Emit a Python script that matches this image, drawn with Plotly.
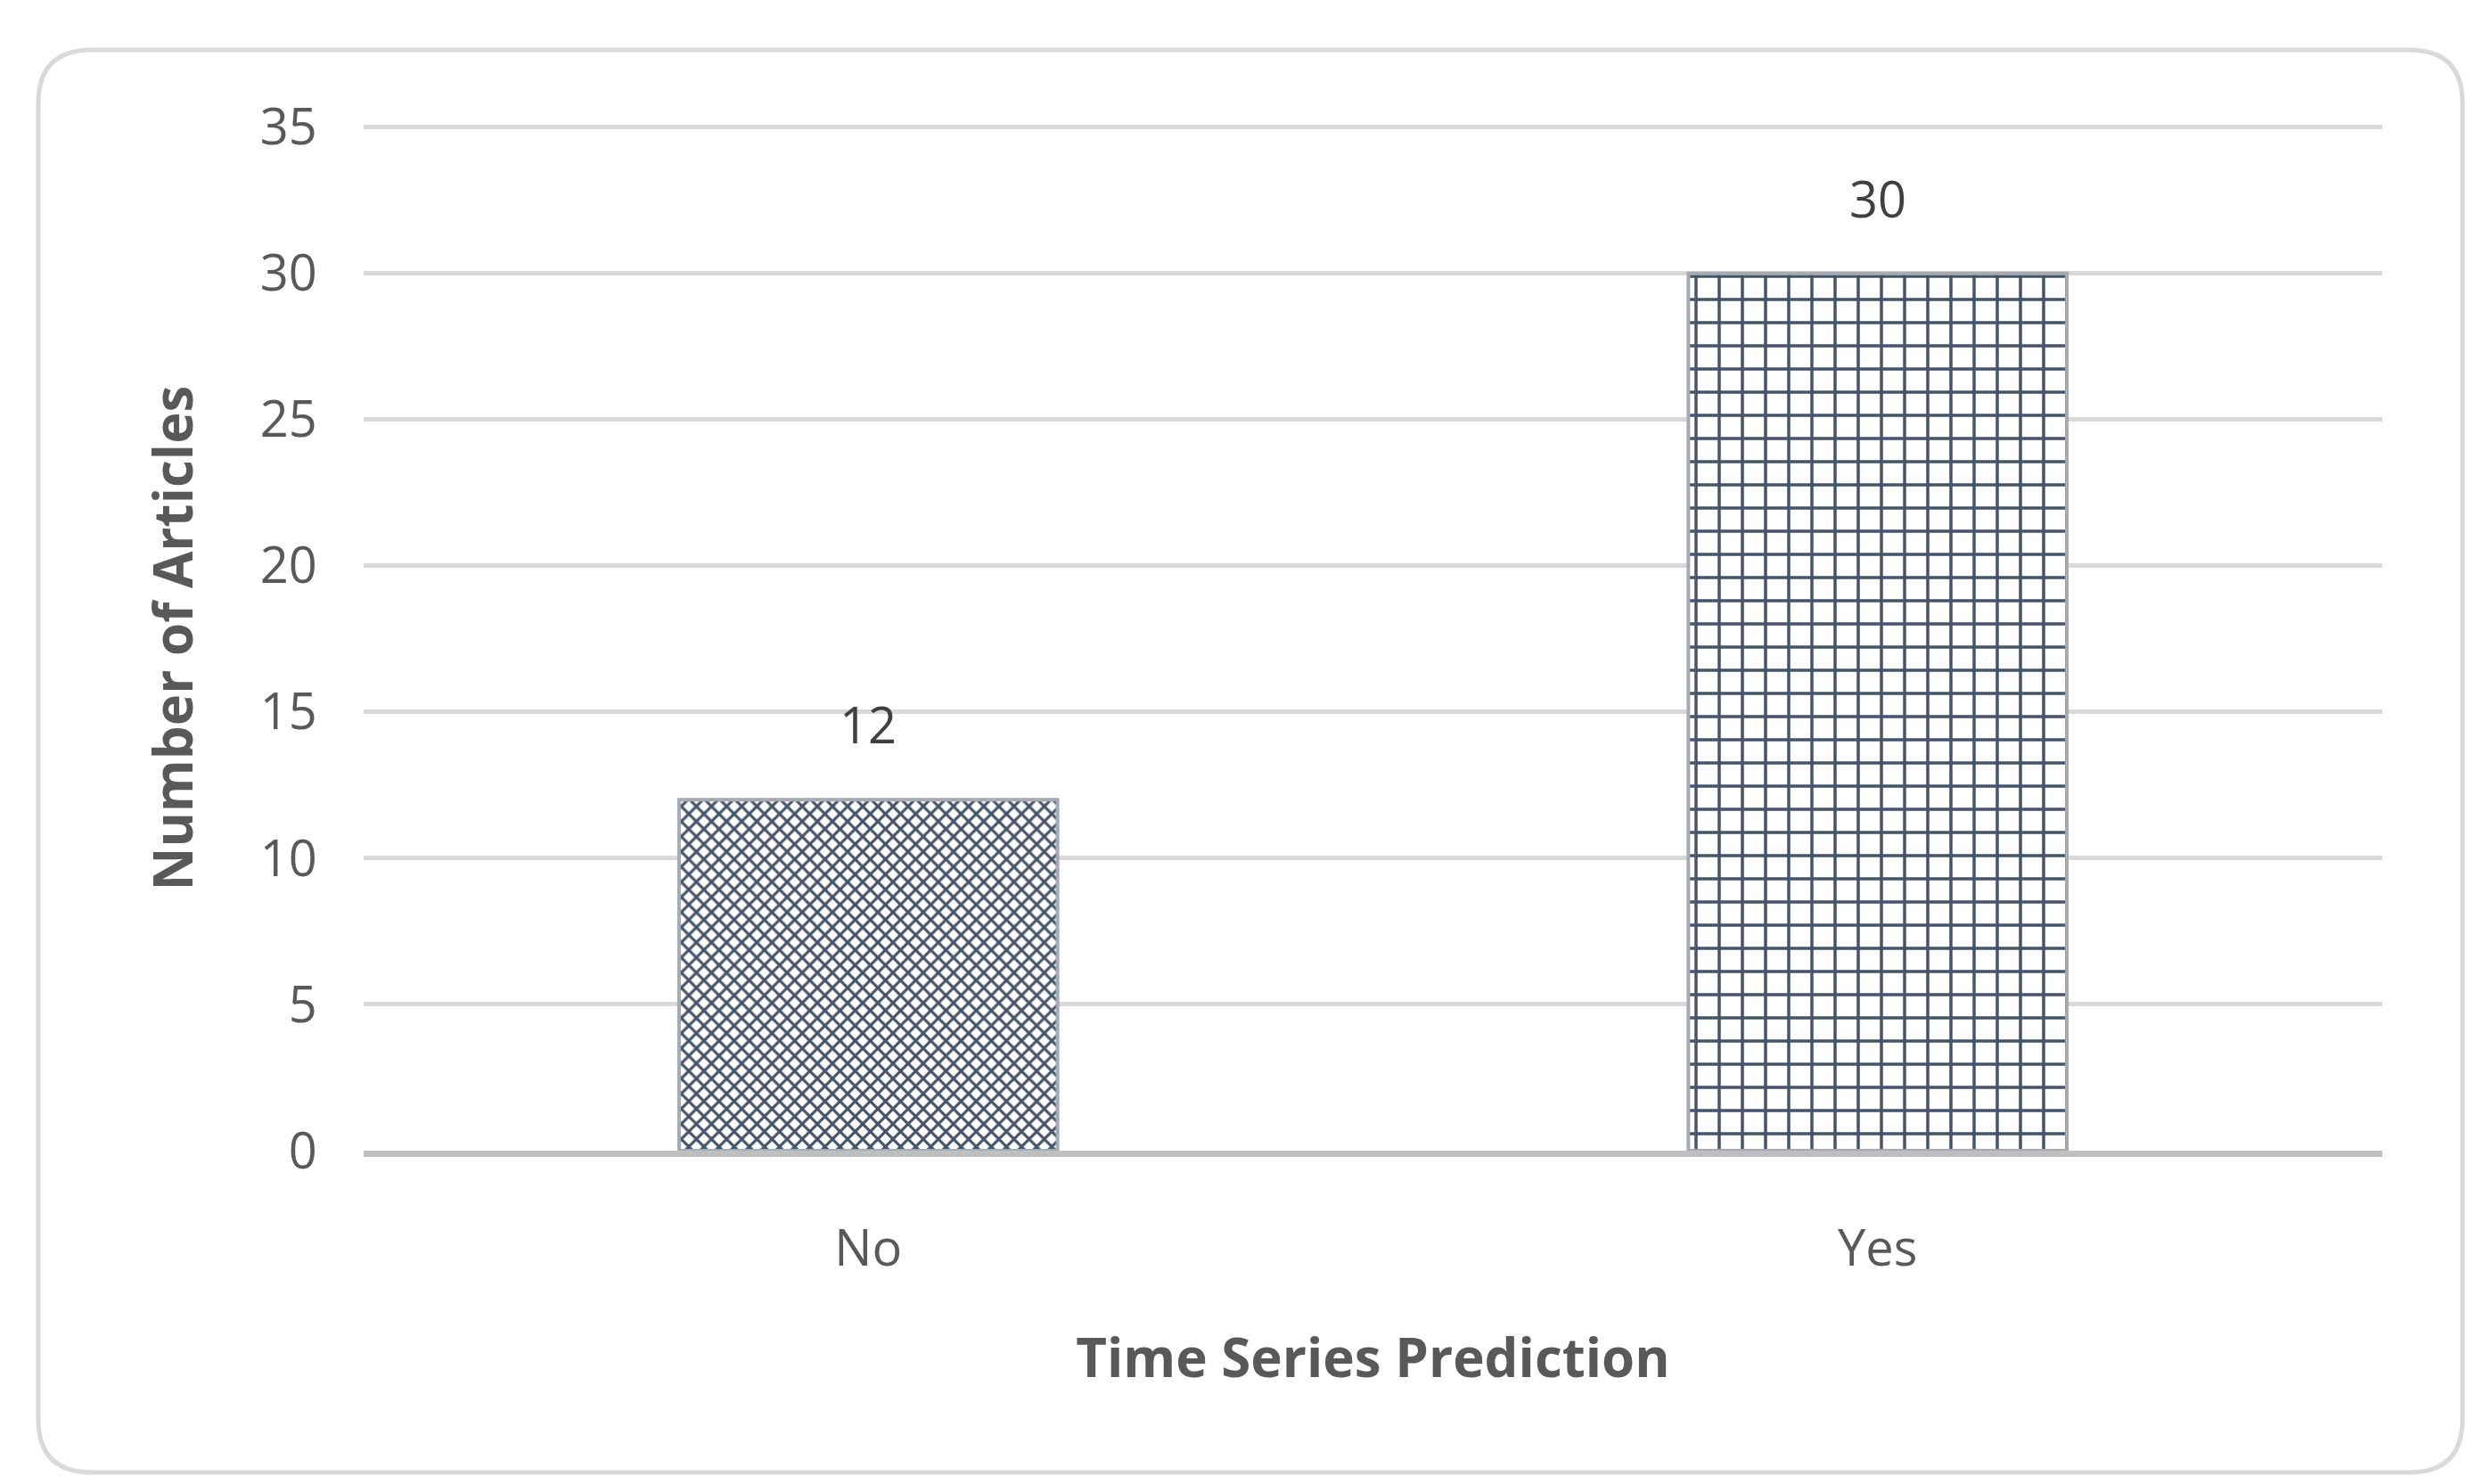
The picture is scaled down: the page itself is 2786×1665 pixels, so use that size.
import plotly.graph_objects as go

categories = ["No", "Yes"]
values = [12, 30]
y_ticks = [0, 5, 10, 15, 20, 25, 30, 35]

fig = go.Figure()
fig.add_trace(go.Bar(
    x=categories, y=values, width=0.375,
    marker=dict(color="white",
                line=dict(color="#a6abb3", width=4),
                pattern=dict(shape=["x", "+"], fgcolor="#44546a", bgcolor="white", fgopacity=1,
                             size=[12, 26], solidity=[0.45, 0.25])),
))
for c, v in zip(categories, values):
    fig.add_annotation(x=c, y=v, text=str(v), showarrow=False, yanchor="bottom", yshift=45,
                       font=dict(size=56, color="#404040"))
fig.update_layout(
    width=2786, height=1665,
    margin=dict(l=400, r=121, t=133, b=382),
    paper_bgcolor="white", plot_bgcolor="white",
    font=dict(family="Open Sans", color="#595959"),
    showlegend=False, bargap=0.5,
    xaxis=dict(title=dict(text="<b>Time Series Prediction</b>", font=dict(size=60, color="#595959"), standoff=70),
               tickfont=dict(size=56, color="#595959"), showline=True, linecolor="#bfbfbf", linewidth=7,
               ticks="outside", ticklen=55, tickcolor="rgba(0,0,0,0)"),
    yaxis=dict(title=dict(text="<b>Number of Articles</b>", font=dict(size=60, color="#595959"), standoff=55),
               range=[0, 35.05], tickvals=y_ticks, tickfont=dict(size=56, color="#595959"),
               gridcolor="#d9d9d9", gridwidth=5, zeroline=False, ticklen=40,
               tickcolor="rgba(0,0,0,0)", ticks="outside"),
)
W, H = 2786, 1665
pw, ph = W - 400 - 121, H - 133 - 382
def px(x): return (x - 400) / pw
def py(y): return (H - 382 - y) / ph
x0, y0, x1, y1, r = 35, 48, 2755, 1644, 60
path = (f"M {px(x0+r)} {py(y0)} L {px(x1-r)} {py(y0)} Q {px(x1)} {py(y0)} {px(x1)} {py(y0+r)} "
        f"L {px(x1)} {py(y1-r)} Q {px(x1)} {py(y1)} {px(x1-r)} {py(y1)} "
        f"L {px(x0+r)} {py(y1)} Q {px(x0)} {py(y1)} {px(x0)} {py(y1-r)} "
        f"L {px(x0)} {py(y0+r)} Q {px(x0)} {py(y0)} {px(x0+r)} {py(y0)} Z")
fig.update_layout(shapes=[dict(type="path", xref="paper", yref="paper", path=path,
                               line=dict(color="#d9d9d9", width=5), layer="below")])
fig.write_html("out.html")
